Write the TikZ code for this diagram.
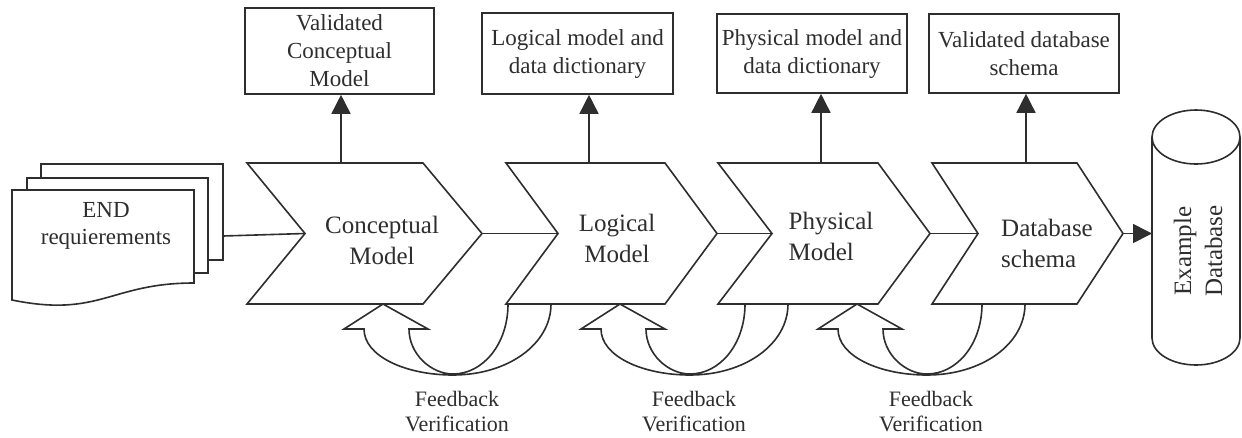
\documentclass[tikz,border=0pt]{standalone}
\usepackage{fontspec}
\setmainfont{Liberation Serif}
\usetikzlibrary{arrows.meta,calc}
\definecolor{ink}{gray}{0.18}
\newcommand\fbarrow[2]{% #1 = tip x, #2 = name
  \draw[lin,fill=white] (#1,304) -- ({#1+45},329) -- ({#1+26},329)
     .. controls ({#1+26},354) and ({#1+48},374) .. ({#1+70},374)
     .. controls ({#1+100},374) and ({#1+125},344) .. ({#1+125},304)
     -- ({#1+168},304)
     .. controls ({#1+168},344) and ({#1+125},375) .. ({#1+70},375)
     .. controls ({#1+22},375) and ({#1-19},356) .. ({#1-19},329)
     -- ({#1-39},329) -- cycle;
  \node[fbtext] (#2) at ({#1+74},412) {Feedback\\Verification};
}
\begin{document}
\begin{tikzpicture}[x=1pt,y=-1pt,
  lin/.style={draw=ink,line width=1.6pt,line join=miter},
  arr/.style={lin,-{Triangle[length=19pt,width=19pt]}},
  chevtext/.style={text=ink,font=\fontsize{25}{31}\selectfont,inner sep=0pt},
  boxnode/.style={lin,fill=white,text=ink,font=\fontsize{23}{28}\selectfont,align=center,inner sep=0pt},
  fbtext/.style={text=ink,font=\fontsize{22}{25}\selectfont,align=center,inner sep=0pt}]
\useasboundingbox (0,0) rectangle (1242,437);

% document stack
\draw[lin,fill=white] (41,164) rectangle (223,260);
\draw[lin,fill=white] (27,178) rectangle (208,273);
\draw[lin,fill=white] (12,190) -- (194,190) -- (194,283)
   .. controls (110,283) and (100,318) .. (12,300) -- cycle;
\node[text=ink,font=\fontsize{23}{27}\selectfont,align=center,inner sep=0pt] (req) at (106,226) {END\\requierements};
\coordinate (docout) at (223,236);

% chevrons
\draw[lin,fill=white] (247,163) -- (423,163) -- (482,233.5) -- (423,304) -- (247,304) -- (305,233.5) -- cycle;
\coordinate (c1notch) at (305,233.5); \coordinate (c1tip) at (482,233.5); \coordinate (c1top) at (341,163);
\node[chevtext,align=center] (c1) at (382,240) {Conceptual\\Model};

\draw[lin,fill=white] (506,163) -- (665,163) -- (717,233.5) -- (665,304) -- (506,304) -- (558,233.5) -- cycle;
\coordinate (c2notch) at (558,233.5); \coordinate (c2tip) at (717,233.5); \coordinate (c2top) at (589,163);
\node[chevtext,align=center] (c2) at (617,238) {Logical\\Model};

\draw[lin,fill=white] (718,163) -- (878,163) -- (930,233.5) -- (878,304) -- (718,304) -- (772,233.5) -- cycle;
\coordinate (c3notch) at (772,233.5); \coordinate (c3tip) at (930,233.5); \coordinate (c3top) at (821,163);
\node[chevtext,align=left] (c3) at (831,236) {Physical\\Model};

\draw[lin,fill=white] (932,163) -- (1077,163) -- (1123,233.5) -- (1077,304) -- (932,304) -- (978,233.5) -- cycle;
\coordinate (c4notch) at (978,233.5); \coordinate (c4tip) at (1123,233.5); \coordinate (c4top) at (1026,163);
\node[chevtext,align=left] (c4) at (1047,243) {Database\\schema};

% horizontal connectors
\draw[lin] (docout) -- (c1notch);
\draw[lin] (c1tip) -- (c2notch);
\draw[lin] (c2tip) -- (c3notch);
\draw[lin] (c3tip) -- (c4notch);

% output boxes
\node[boxnode,minimum width=189pt,minimum height=86pt] (b1) at (339.5,51) {Validated\\Conceptual\\Model};
\node[boxnode,minimum width=191pt,minimum height=81pt] (b2) at (577.5,53.5) {Logical model and\\data dictionary};
\node[boxnode,minimum width=190pt,minimum height=79pt] (b3) at (812,53.5) {Physical model and\\data dictionary};
\node[boxnode,minimum width=190pt,minimum height=79pt] (b4) at (1024,53.5) {Validated database\\schema};
\draw[arr] (c1top) -- (c1top |- b1.south);
\draw[arr] (c2top) -- (c2top |- b2.south);
\draw[arr] (c3top) -- (c3top |- b3.south);
\draw[arr] (c4top) -- (c4top |- b4.south);

% feedback loops
\fbarrow{383}{fb1}
\fbarrow{620}{fb2}
\fbarrow{857}{fb3}

% database cylinder
\draw[lin,fill=white] (1152,137) -- (1152,338) arc[start angle=180,end angle=0,x radius=44,y radius=27] -- (1240,137);
\draw[lin,fill=white] (1196,137) ellipse[x radius=44,y radius=27];
\node[chevtext,rotate=90,align=center] (db) at (1198,251) {Example\\Database};
\coordinate (dbin) at (1152,233.5);
\draw[arr] (c4tip) -- (dbin);
\end{tikzpicture}
\end{document}
